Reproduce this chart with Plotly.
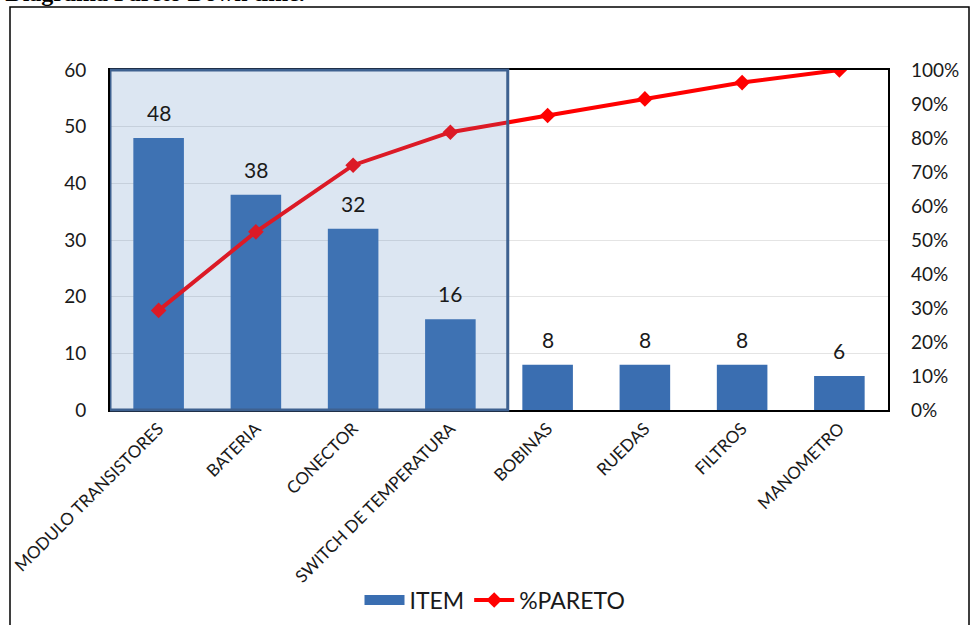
import plotly.graph_objects as go
from plotly.subplots import make_subplots

# Down-time items, sorted by frequency
categories = ["MODULO TRANSISTORES", "BATERIA", "CONECTOR", "SWITCH DE TEMPERATURA",
              "BOBINAS", "RUEDAS", "FILTROS", "MANOMETRO"]
item_counts = [48, 38, 32, 16, 8, 8, 8, 6]
# cumulative share (%)
pareto_pct = [29.3, 52.4, 72.0, 81.7, 86.6, 91.5, 96.3, 100.0]

count_ticks = [0, 10, 20, 30, 40, 50, 60]
pct_ticks = [0, 10, 20, 30, 40, 50, 60, 70, 80, 90, 100]
pct_labels = ["0%", "10%", "20%", "30%", "40%", "50%", "60%", "70%", "80%", "90%", "100%"]

W, H = 972, 625
ML, MR, MT, MB = 110, 84, 70, 215
PW, PH = W - ML - MR, H - MT - MB


def px_x(p):
    return (p - ML) / PW


def px_y(p):
    return (H - MB - p) / PH


FONT = "Lato"
TXT = "#1a1a1a"
BAR = "#3a6eb1"

fig = make_subplots(specs=[[{"secondary_y": True}]])

fig.add_trace(go.Bar(
    x=categories, y=item_counts, name="ITEM", width=0.52, showlegend=False,
    marker=dict(color=BAR, line=dict(width=0)),
), secondary_y=False)

# legend key for the bars, drawn as a wide block
fig.add_trace(go.Scatter(
    x=[None], y=[None], name="ITEM", mode="lines",
    line=dict(color=BAR, width=12),
), secondary_y=False)

fig.add_trace(go.Scatter(
    x=categories, y=pareto_pct, name="%PARETO", mode="lines+markers",
    line=dict(color="#ff0000", width=4),
    marker=dict(symbol="diamond", size=12, color="#ff0000"),
), secondary_y=True)

# value labels over the bars
for c, v in zip(categories, item_counts):
    fig.add_annotation(x=c, y=v, xref="x", yref="y", text=str(v), showarrow=False,
                       yanchor="bottom", yshift=11,
                       font=dict(family=FONT, size=21, color=TXT))

# vital-few band over the first four items
fig.add_shape(type="rect", xref="x", yref="paper", x0=-0.5, x1=3.59, y0=0, y1=1,
              fillcolor="rgba(79,129,189,0.2)", line=dict(color="#3e6190", width=3),
              layer="above")

# outer frame
fig.add_shape(type="rect", xref="paper", yref="paper",
              x0=px_x(10), x1=px_x(969), y0=px_y(7), y1=px_y(640),
              line=dict(color="black", width=1.5), fillcolor="rgba(0,0,0,0)", layer="below")

# caption line above the frame
fig.add_annotation(xref="paper", yref="paper", x=px_x(307), y=px_y(8),
                   xanchor="right", yanchor="bottom", showarrow=False,
                   text="<b>Figura 3. Diagrama Pareto Down time.</b>",
                   font=dict(family="Liberation Serif", size=24, color="black"))

fig.update_xaxes(domain=[0, 1], range=[-0.5, 7.5], tickangle=-45, showline=True, mirror=True,
                 linecolor="black", linewidth=2, ticks="", showgrid=False, automargin=False,
                 tickfont=dict(family=FONT, size=17, color=TXT))
fig.update_yaxes(range=[0, 60], tickvals=count_ticks, showgrid=True, gridcolor="#e4e4e4",
                 gridwidth=1, showline=True, mirror=True, linecolor="black", linewidth=2,
                 ticks="", ticklabelstandoff=18, zeroline=False, automargin=False,
                 tickfont=dict(family=FONT, size=19, color=TXT), secondary_y=False)
fig.update_yaxes(range=[0, 100], tickvals=pct_ticks, ticktext=pct_labels, showgrid=False,
                 showline=False, ticks="", ticklabelstandoff=22, zeroline=False,
                 automargin=False,
                 tickfont=dict(family=FONT, size=19, color=TXT), secondary_y=True)

fig.update_layout(
    width=W, height=H, autosize=False,
    margin=dict(l=ML, r=MR, t=MT, b=MB, pad=0, autoexpand=False),
    paper_bgcolor="white", plot_bgcolor="white",
    legend=dict(orientation="h", x=px_x(495), xanchor="center", y=px_y(600), yanchor="middle",
                font=dict(family=FONT, size=23, color=TXT), traceorder="normal",
                itemwidth=40, bgcolor="rgba(0,0,0,0)"),
    showlegend=True,
)

fig.write_html("out.html")
